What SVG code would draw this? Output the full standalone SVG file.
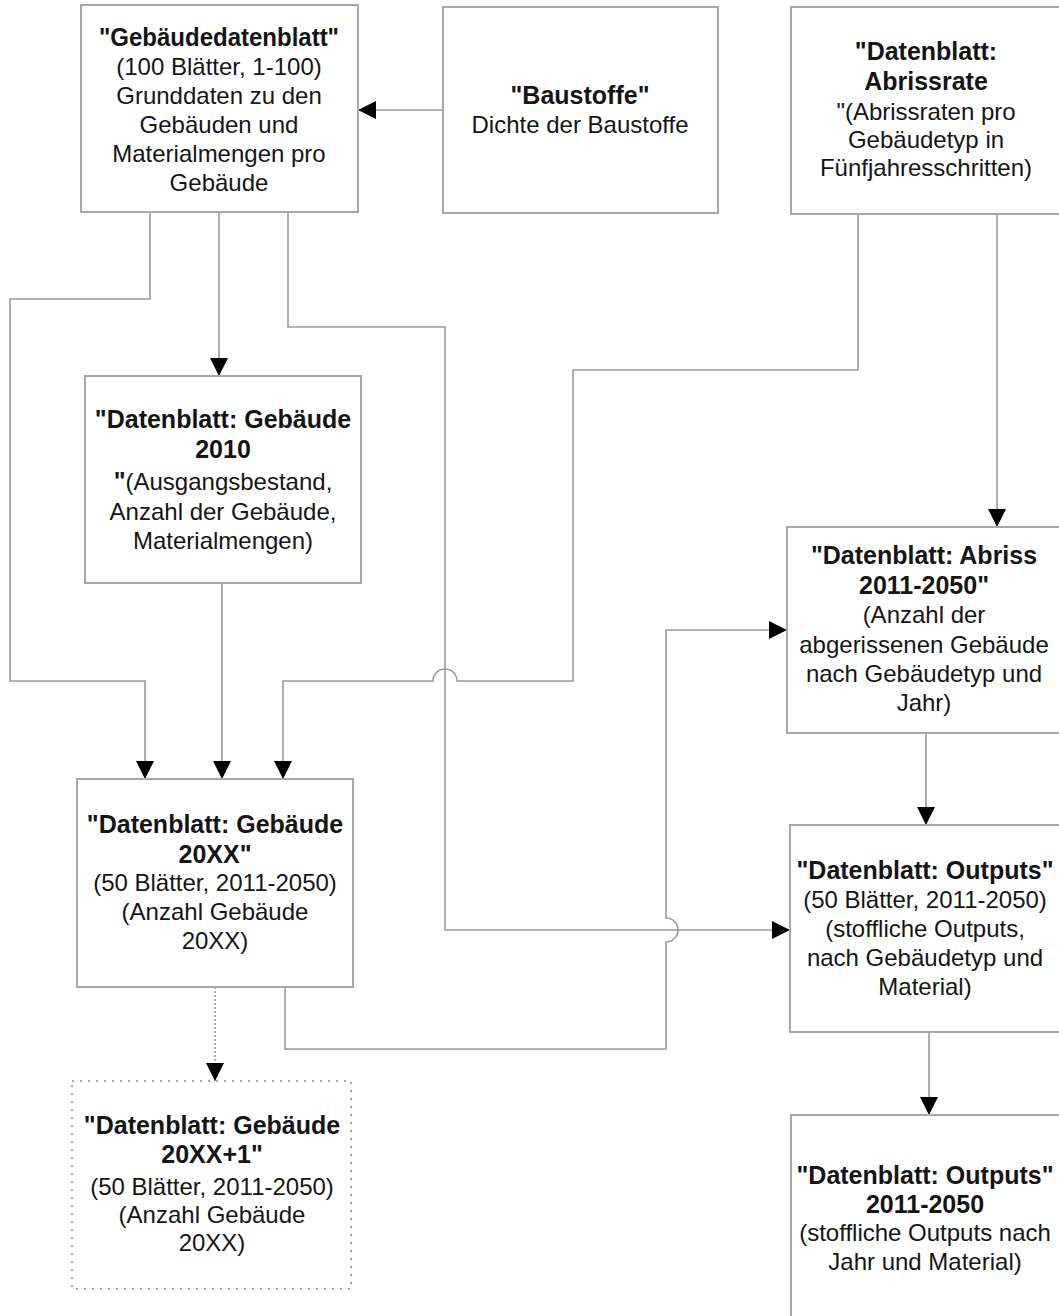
<svg xmlns="http://www.w3.org/2000/svg" width="1059" height="1316" viewBox="0 0 1059 1316">
<style>
.box{fill:#fff;stroke:#a8a8a8;stroke-width:2}
.dbox{fill:#fff;stroke:#aaa;stroke-width:2;stroke-dasharray:2,6}
.t{font-family:"Liberation Sans",Arial,sans-serif;font-size:24px;fill:#151515;text-anchor:middle}
.b{font-weight:bold;font-size:25px}
.c{fill:none;stroke:#9a9a9a;stroke-width:1.6}
.dot{stroke-dasharray:2,2}
</style>
<defs>
<marker id="ah" viewBox="0 0 10 10" refX="10" refY="5" markerWidth="18" markerHeight="18" markerUnits="userSpaceOnUse" orient="auto">
<path d="M0,0 L10,5 L0,10 z" fill="#000"/>
</marker>
</defs>
<rect width="1059" height="1316" fill="#fff"/>

<g id="connectors">
<path class="c" d="M443,110 H358" marker-end="url(#ah)"/>
<path class="c" d="M150,212 V299 H10 V681 H145 V779" marker-end="url(#ah)"/>
<path class="c" d="M219,212 V376" marker-end="url(#ah)"/>
<path class="c" d="M222,583 V779" marker-end="url(#ah)"/>
<path class="c" d="M288,212 V327 H445 V930 H790" marker-end="url(#ah)"/>
<path class="c" d="M858,214 V370 H573 V681 H457 A12,12 0 0 0 433,681 H283 V779" marker-end="url(#ah)"/>
<path class="c" d="M997,214 V527" marker-end="url(#ah)"/>
<path class="c" d="M926,733 V825" marker-end="url(#ah)"/>
<path class="c" d="M929,1032 V1115" marker-end="url(#ah)"/>
<path class="c" d="M285,987 V1049 H666 V942 A12,12 0 0 0 666,918 V630 H787" marker-end="url(#ah)"/>
<path class="c dot" d="M215,987 V1081" marker-end="url(#ah)"/>
</g>

<g id="gebaeudedatenblatt">
<rect class="box" x="81" y="5" width="277" height="207"/>
<text class="t b" x="219" y="46" textLength="240" lengthAdjust="spacingAndGlyphs">"Gebäudedatenblatt"</text>
<text class="t" x="219" y="75">(100 Blätter, 1-100)</text>
<text class="t" x="219" y="104">Grunddaten zu den</text>
<text class="t" x="219" y="133">Gebäuden und</text>
<text class="t" x="219" y="162">Materialmengen pro</text>
<text class="t" x="219" y="191">Gebäude</text>
</g>

<g id="baustoffe">
<rect class="box" x="443" y="7" width="275" height="206"/>
<text class="t b" x="580" y="104">"Baustoffe"</text>
<text class="t" x="580" y="133">Dichte der Baustoffe</text>
</g>

<g id="abrissrate">
<rect class="box" x="791" y="7" width="290" height="207"/>
<text class="t b" x="926" y="60">"Datenblatt:</text>
<text class="t b" x="926" y="90">Abrissrate</text>
<text class="t" x="926" y="120">"(Abrissraten pro</text>
<text class="t" x="926" y="148">Gebäudetyp in</text>
<text class="t" x="926" y="176">Fünfjahresschritten)</text>
</g>

<g id="gebaeude2010">
<rect class="box" x="85" y="376" width="276" height="207"/>
<text class="t b" x="223" y="428">"Datenblatt: Gebäude</text>
<text class="t b" x="223" y="458">2010</text>
<text class="t" x="223" y="490"><tspan class="b">"</tspan>(Ausgangsbestand,</text>
<text class="t" x="223" y="520">Anzahl der Gebäude,</text>
<text class="t" x="223" y="549">Materialmengen)</text>
</g>

<g id="gebaeude20xx">
<rect class="box" x="77" y="779" width="276" height="208"/>
<text class="t b" x="215" y="833">"Datenblatt: Gebäude</text>
<text class="t b" x="215" y="863">20XX"</text>
<text class="t" x="215" y="891">(50 Blätter, 2011-2050)</text>
<text class="t" x="215" y="920">(Anzahl Gebäude</text>
<text class="t" x="215" y="949">20XX)</text>
</g>

<g id="gebaeude20xx1">
<rect class="dbox" x="72" y="1081" width="279" height="208"/>
<text class="t b" x="212" y="1134">"Datenblatt: Gebäude</text>
<text class="t b" x="212" y="1163">20XX+1"</text>
<text class="t" x="212" y="1195">(50 Blätter, 2011-2050)</text>
<text class="t" x="212" y="1223">(Anzahl Gebäude</text>
<text class="t" x="212" y="1251">20XX)</text>
</g>

<g id="abriss">
<rect class="box" x="787" y="527" width="290" height="206"/>
<text class="t b" x="924" y="564">"Datenblatt: Abriss</text>
<text class="t b" x="924" y="594">2011-2050"</text>
<text class="t" x="924" y="623">(Anzahl der</text>
<text class="t" x="924" y="653">abgerissenen Gebäude</text>
<text class="t" x="924" y="682">nach Gebäudetyp und</text>
<text class="t" x="924" y="711">Jahr)</text>
</g>

<g id="outputs">
<rect class="box" x="790" y="825" width="290" height="207"/>
<text class="t b" x="925" y="879">"Datenblatt: Outputs"</text>
<text class="t" x="925" y="908">(50 Blätter, 2011-2050)</text>
<text class="t" x="925" y="937">(stoffliche Outputs,</text>
<text class="t" x="925" y="966">nach Gebäudetyp und</text>
<text class="t" x="925" y="995">Material)</text>
</g>

<g id="outputs20112050">
<rect class="box" x="791" y="1115" width="290" height="220"/>
<text class="t b" x="925" y="1184">"Datenblatt: Outputs"</text>
<text class="t b" x="925" y="1213">2011-2050</text>
<text class="t" x="925" y="1241">(stoffliche Outputs nach</text>
<text class="t" x="925" y="1270">Jahr und Material)</text>
</g>
</svg>
